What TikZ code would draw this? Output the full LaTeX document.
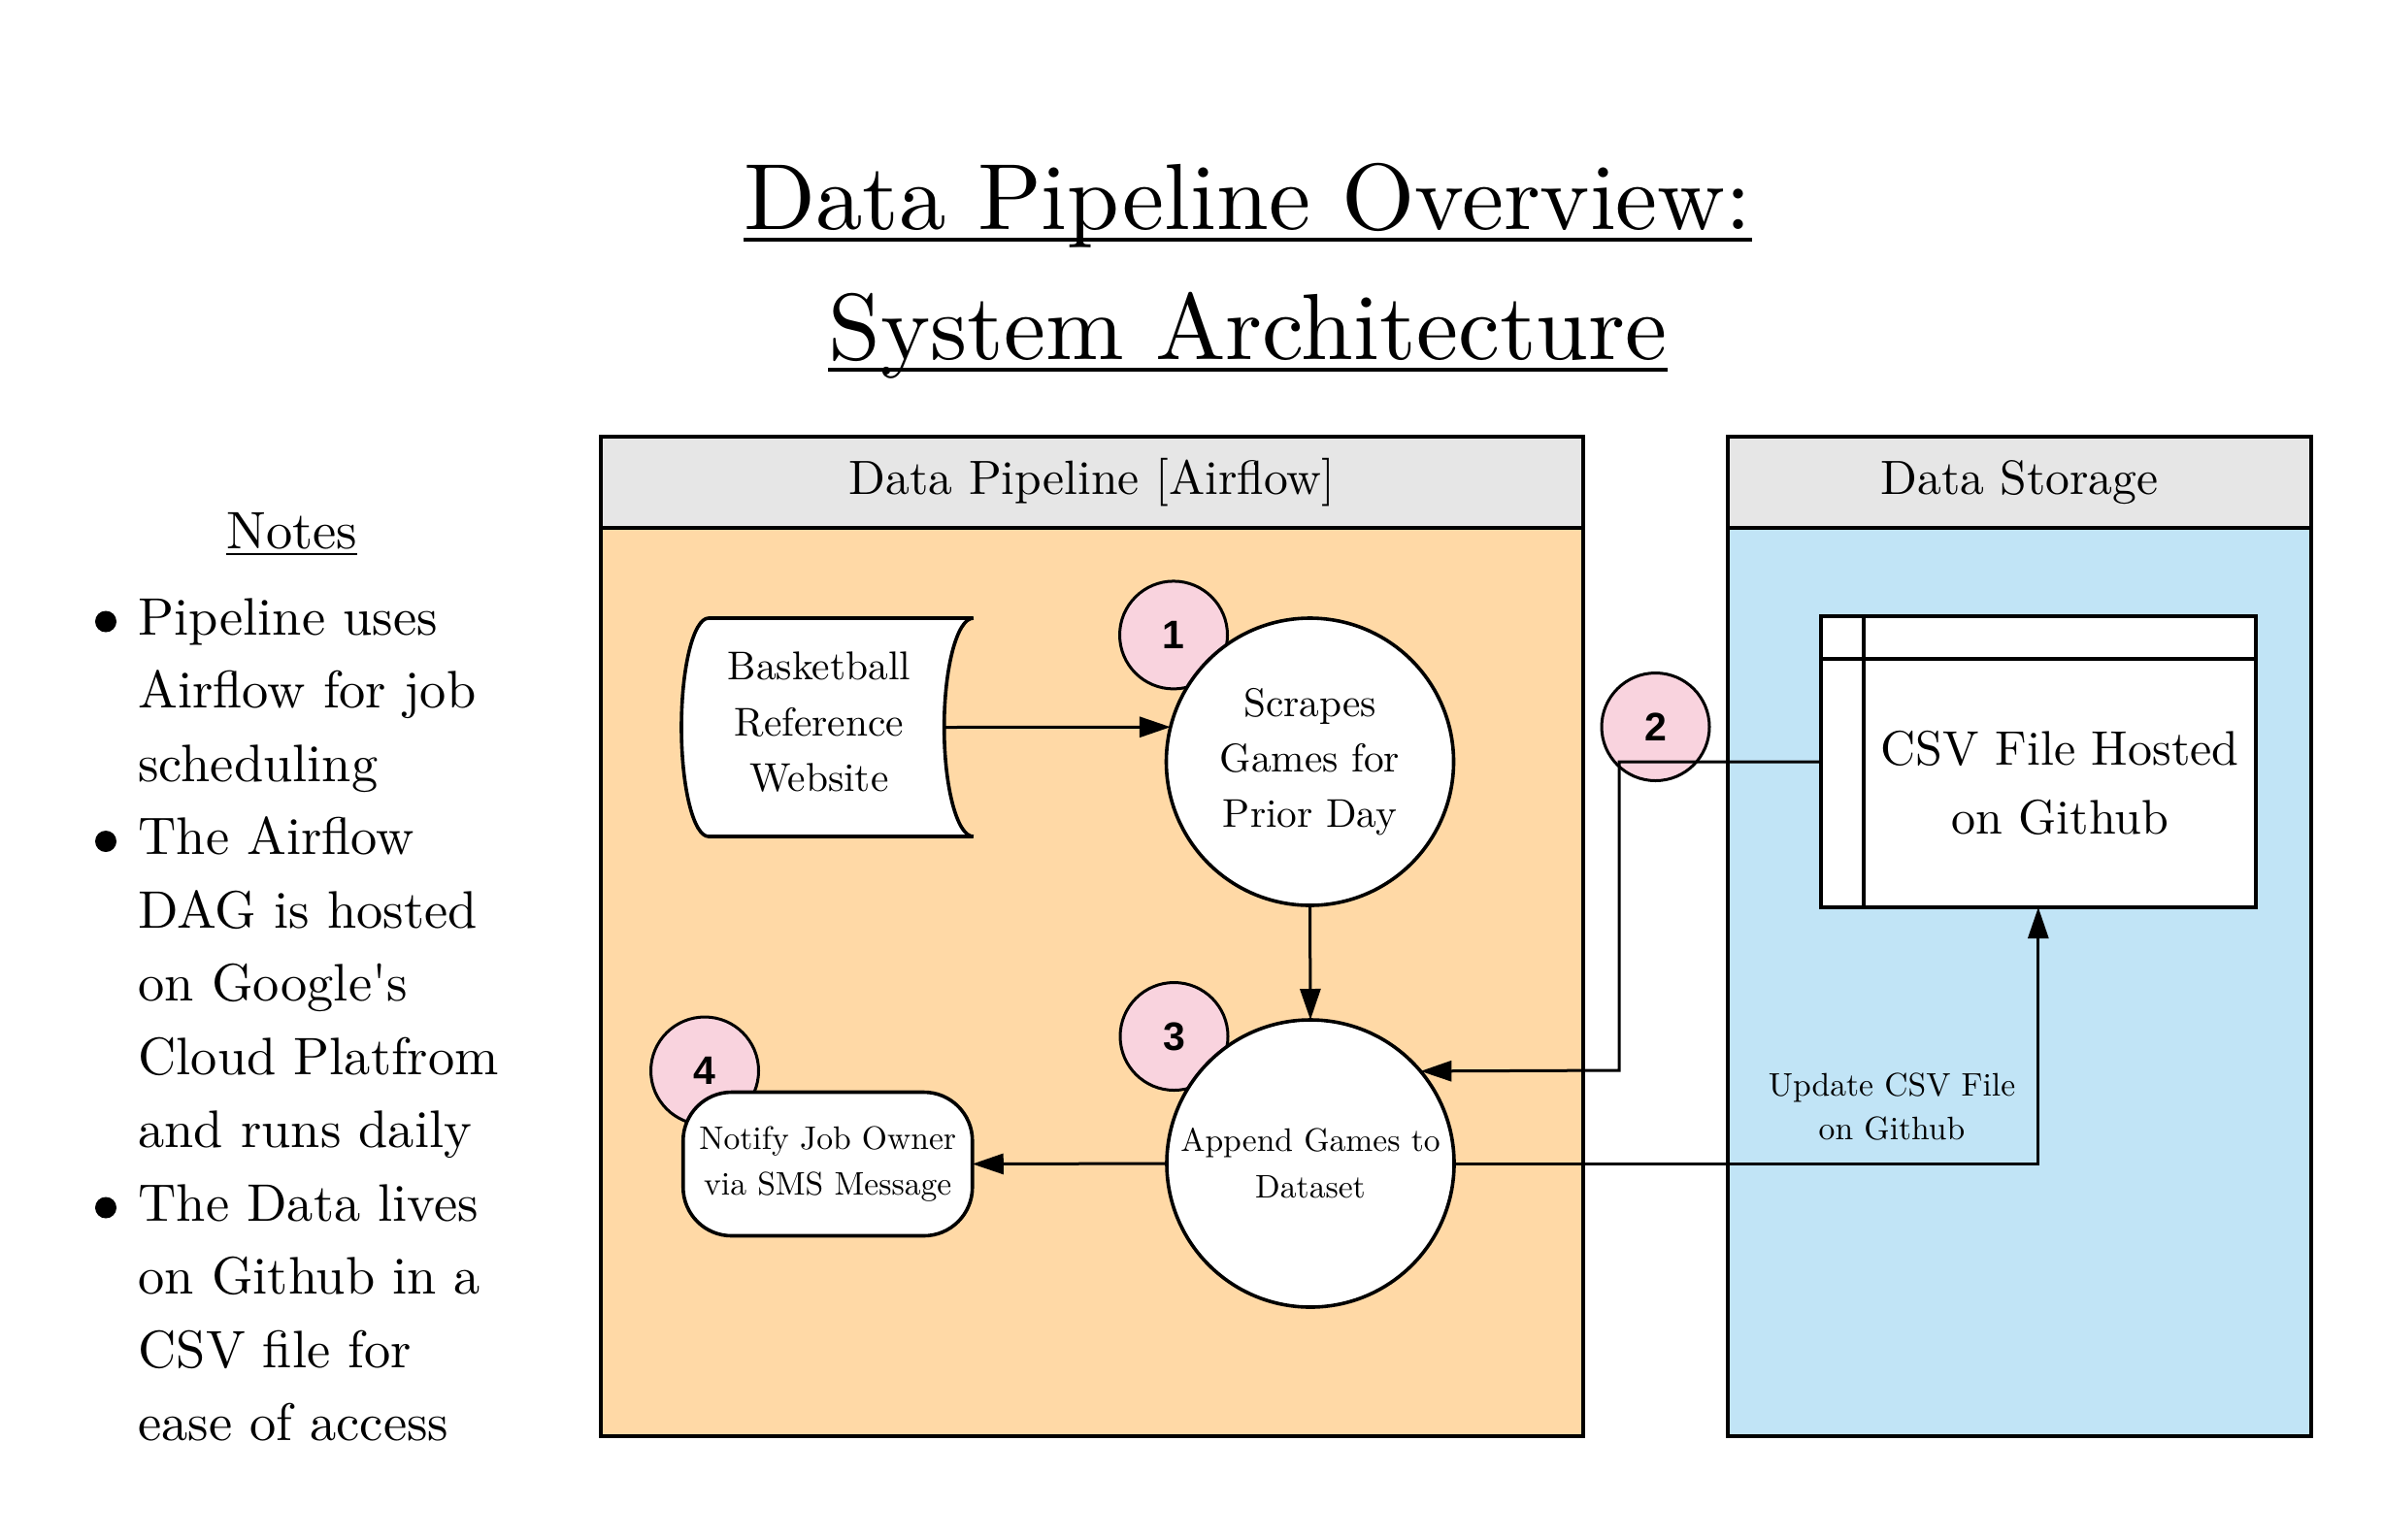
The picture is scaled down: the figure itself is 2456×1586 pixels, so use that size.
\documentclass[tikz,border=0pt]{standalone}
\usepackage{fontspec}
\setmainfont{lmroman10-regular.otf}
\newfontfamily\badgefont{Liberation Sans}
\usetikzlibrary{arrows.meta}
\definecolor{pipeorange}{RGB}{255,217,166}
\definecolor{storeblue}{RGB}{193,228,246}
\definecolor{hdrgrey}{RGB}{230,230,230}
\definecolor{badgepink}{RGB}{249,211,222}
\newcommand\fsz[2]{\fontsize{#1}{#2}\selectfont}
\tikzset{
  containerbox/.style={draw, line width=2pt, inner sep=0pt, outer sep=0pt},
  hdr/.style={draw, line width=2pt, fill=hdrgrey, inner sep=0pt, outer sep=0pt, font=\fsz{24.8pt}{30pt}},
  badge/.style={circle, draw, line width=1.5pt, fill=badgepink, minimum size=55.5pt, inner sep=0pt, font=\badgefont\bfseries\fsz{20.5pt}{24pt}},
  proc/.style={circle, draw, line width=1.8pt, fill=white, minimum size=148pt, inner sep=0pt, outer sep=0pt, align=center},
  conn/.style={line width=1.5pt, -{Triangle[length=16pt,width=10.5pt]}},
  plain/.style={inner sep=0pt, outer sep=0pt},
  notesfont/.style={font=\fsz{27.2pt}{37.75pt}},
  bul/.style={circle, fill=black, minimum size=11pt, inner sep=0pt}
}
\begin{document}
\begin{tikzpicture}[x=0.5pt,y=-0.5pt]
\useasboundingbox (0,0) rectangle (2456,1586);

% Title
\node[plain, anchor=base, font=\fsz{48.4pt}{58pt}] (t1) at (1285.5,236.7) {Data Pipeline Overview:};
\node[plain, anchor=base, font=\fsz{48.4pt}{58pt}] (t2) at (1285.5,370) {System Architecture};
\draw[line width=2pt] ([yshift=-5.3pt]t1.base west) -- ([yshift=-5.3pt]t1.base east);
\draw[line width=2pt] ([yshift=-5.3pt]t2.base west) -- ([yshift=-5.3pt]t2.base east);

% Notes
\node[plain, anchor=base, notesfont] (notes) at (300.7,565) {Notes};
\draw[line width=1.2pt] ([yshift=-3pt]notes.base west) -- ([yshift=-3pt]notes.base east);
\foreach \txt [count=\i] in {Pipeline uses, Airflow for job, scheduling, The Airflow, DAG is hosted, on Google\textquotesingle s, Cloud Platfrom, and runs daily, The Data lives, on Github in a, CSV file for, ease of access}{
  \node[plain, anchor=base west, notesfont] (nl\i) at (142.5,{654+75.5*(\i-1)}) {\txt};
}
\node[bul] (bu1) at (109,640.5) {};
\node[bul] (bu2) at (109,867) {};
\node[bul] (bu3) at (109,1244.5) {};

% Containers
\node[containerbox, fill=pipeorange, minimum width=506.1pt, minimum height=468pt] (pipebody) at (1124.9,1012) {};
\node[hdr, minimum width=506.1pt, minimum height=47.25pt] (pipehead) at (1124.9,496.75) {Data Pipeline [Airflow]};
\node[containerbox, fill=storeblue, minimum width=300.5pt, minimum height=468pt] (storebody) at (2080.5,1012) {};
\node[hdr, minimum width=300.5pt, minimum height=47.25pt] (storehead) at (2080.5,496.75) {Data Storage};

% Badges
\node[badge] (bd1) at (1209,654.4) {1};
\node[badge] (bd2) at (1705.5,749) {2};
\node[badge] (bd3) at (1209.5,1068) {3};
\node[badge] (bd4) at (726,1103.5) {4};

% Stored-data shape
\draw[line width=1.8pt, fill=white]
  (730,637) -- (1002.7,637)
  .. controls (986.1,637) and (972.7,687.4) .. (972.7,749.5)
  .. controls (972.7,811.6) and (986.1,862) .. (1002.7,862)
  -- (730,862)
  .. controls (714.5,862) and (702,811.6) .. (702,749.5)
  .. controls (702,687.4) and (714.5,637) .. (730,637) -- cycle;
\node[plain, align=center, font=\fsz{20.7pt}{28.75pt}] (tapetxt) at (844,744.5) {Basketball\\Reference\\Website};
\coordinate (tapeR) at (972.7,749.5);

% Processes
\node[proc, font=\fsz{20.65pt}{28.4pt}] (scr) at (1349.5,785) {Scrapes\\Games for\\Prior Day};
\node[proc, font=\fsz{16.8pt}{24pt}] (app) at (1350,1199) {Append Games to\\Dataset};
\node[draw, line width=1.8pt, fill=white, rounded corners=25pt, minimum width=149pt, minimum height=74pt, inner sep=0pt, outer sep=0pt, align=center, font=\fsz{16.8pt}{23.3pt}] (notify) at (852.75,1199.5) {Notify Job Owner\\via SMS Message};

% CSV file
\node[draw, line width=1.8pt, fill=white, minimum width=224pt, minimum height=150pt, inner sep=0pt, outer sep=0pt] (csv) at (2099.8,785) {};
\draw[line width=1.8pt] ([yshift=-22pt]csv.north west) -- ([yshift=-22pt]csv.north east);
\draw[line width=1.8pt] ([xshift=22.2pt]csv.north west) -- ([xshift=22.2pt]csv.south west);
\node[plain, align=center, font=\fsz{25pt}{35.7pt}] (csvtxt) at (2122,807) {CSV File Hosted\\on Github};

% Connectors
\coordinate (k2) at (1668,1103);
\draw[conn] (tapeR) -- (scr.166.12);
\draw[conn] (scr.south) -- (app.north);
\draw[conn] (csv.west) -| (k2) -- (app.40.44);
\draw[conn] (app.east) -| (csv.south);
\draw[conn] (app.west) -- (notify.east);
\node[plain, align=center, font=\fsz{16.8pt}{22.5pt}] (upd) at (1949,1141) {Update CSV File\\on Github};
\end{tikzpicture}
\end{document}
